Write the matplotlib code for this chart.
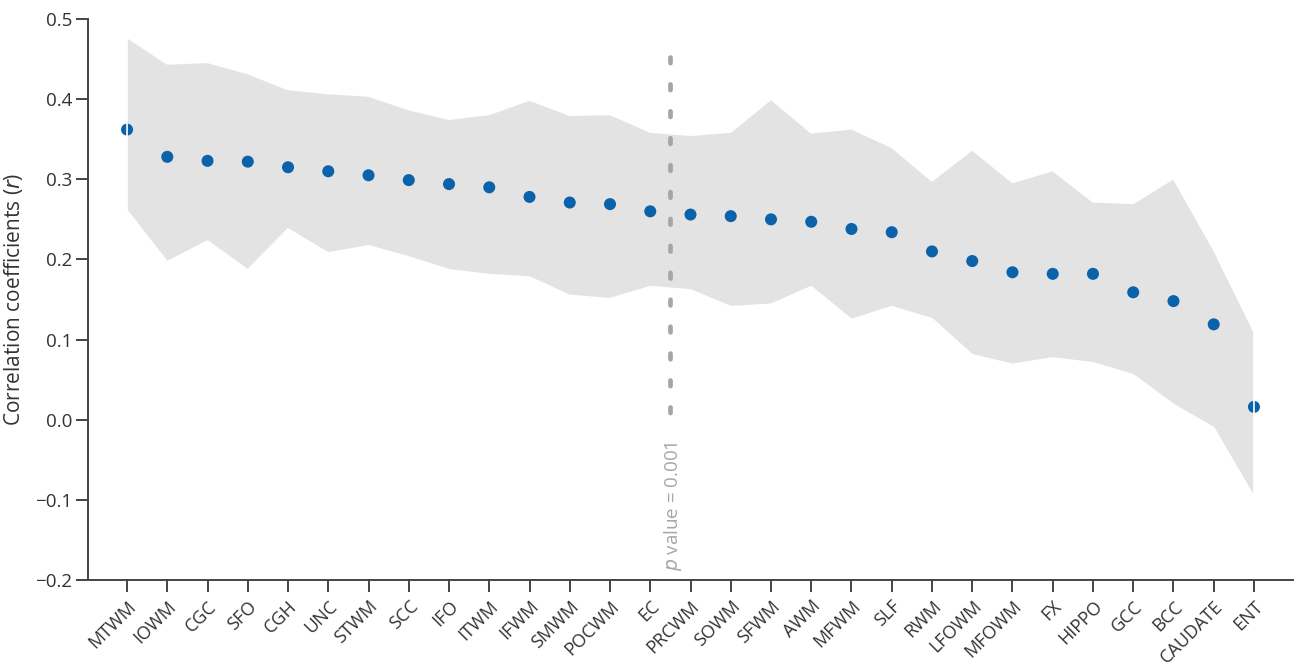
import matplotlib
matplotlib.use('Agg')
import matplotlib.pyplot as plt
import numpy as np

plt.rcParams['font.family'] = ['Open Sans', 'DejaVu Sans']

regions = ['MTWM', 'IOWM', 'CGC', 'SFO', 'CGH', 'UNC', 'STWM', 'SCC', 'IFO', 'ITWM',
           'IFWM', 'SMWM', 'POCWM', 'EC', 'PRCWM', 'SOWM', 'SFWM', 'AWM', 'MFWM', 'SLF',
           'RWM', 'LFOWM', 'MFOWM', 'FX', 'HIPPO', 'GCC', 'BCC', 'CAUDATE', 'ENT']
r_mean = [0.362, 0.328, 0.323, 0.322, 0.315, 0.310, 0.305, 0.299, 0.294, 0.290,
          0.278, 0.271, 0.269, 0.260, 0.256, 0.254, 0.250, 0.247, 0.238, 0.234,
          0.210, 0.198, 0.184, 0.182, 0.182, 0.159, 0.148, 0.119, 0.016]
r_upper = [0.477, 0.444, 0.446, 0.432, 0.412, 0.407, 0.404, 0.387, 0.375, 0.381,
           0.399, 0.380, 0.381, 0.359, 0.355, 0.359, 0.400, 0.358, 0.363, 0.340,
           0.298, 0.337, 0.296, 0.311, 0.272, 0.270, 0.301, 0.212, 0.110]
r_lower = [0.261, 0.197, 0.223, 0.187, 0.238, 0.208, 0.217, 0.203, 0.187, 0.181,
           0.178, 0.155, 0.151, 0.166, 0.162, 0.141, 0.144, 0.166, 0.125, 0.141,
           0.126, 0.081, 0.069, 0.077, 0.071, 0.056, 0.019, -0.010, -0.096]

# p = 0.001 threshold sits between EC and PRCWM
p_thresh_pos = 13.5

x = np.arange(len(regions))

fig = plt.figure(figsize=(12.96, 6.64), dpi=100)
ax = fig.add_axes([88 / 1296, 1 - 580 / 664, (1293 - 88) / 1296, (580 - 19) / 664])

ax.fill_between(x, r_lower, r_upper, facecolor='#e3e3e3', edgecolor='none', zorder=1)
ax.scatter(x, r_mean, s=75, color='#0a62aa', edgecolors='none', zorder=3)
# white outline of the band, drawn over the end markers like in the original
ax.fill_between(x, r_lower, r_upper, facecolor='none', edgecolor='white', linewidth=1.2, zorder=4)

ax.plot([p_thresh_pos, p_thresh_pos], [0.452, -0.017], color='#a6a6a6', linewidth=3.4,
        dashes=(1.2, 4.5), dash_capstyle='round', zorder=5)
ax.text(p_thresh_pos + 0.06, -0.027, r'$\it{p}$ value = 0.001', rotation=90, ha='center', va='top',
        color='#a6a6a6', fontsize=13.5)

ax.set_xlim(-0.97, 28.97)
ax.set_ylim(-0.2, 0.5)
ax.set_yticks(np.arange(-0.2, 0.51, 0.1))
ax.set_yticklabels(['\u22120.2', '\u22120.1', '0.0', '0.1', '0.2', '0.3', '0.4', '0.5'])
ax.set_xticks(x)
ax.set_xticklabels(regions, rotation=45, ha='right', rotation_mode='anchor')
ax.set_ylabel(r'Correlation coefficients ($\it{r}$)', fontsize=15, color='#333333', labelpad=7)

for s in ['top', 'right']:
    ax.spines[s].set_visible(False)
for s in ['left', 'bottom']:
    ax.spines[s].set_color('#444444')
    ax.spines[s].set_linewidth(1.4)
ax.tick_params(axis='both', length=8.5, width=1.4, color='#444444', labelcolor='#333333', labelsize=13.5)
ax.tick_params(axis='x', labelsize=13)
ax.tick_params(axis='y', pad=3)
ax.tick_params(axis='x', pad=4)

fig.savefig('out.png', dpi=100)
